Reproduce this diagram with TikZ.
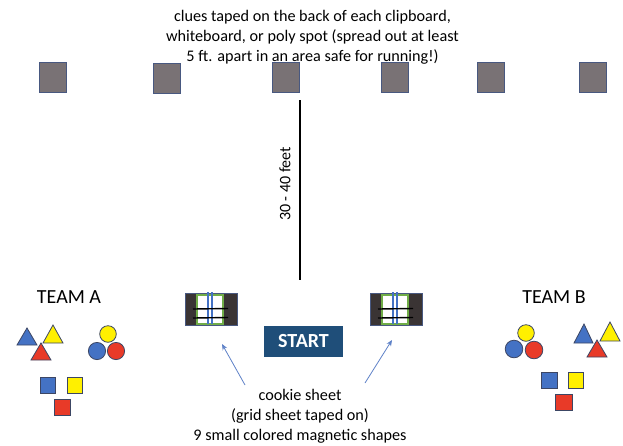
\documentclass[tikz,border=0pt]{standalone}
\usepackage{fontspec}
\setmainfont{Carlito}
\usetikzlibrary{arrows.meta}
\definecolor{clueg}{RGB}{121,114,117}
\definecolor{clueb}{RGB}{72,88,128}
\definecolor{shblue}{RGB}{68,114,196}
\definecolor{shyel}{RGB}{255,240,0}
\definecolor{shred}{RGB}{232,58,40}
\definecolor{shline}{RGB}{60,70,100}
\definecolor{startbg}{RGB}{31,78,121}
\definecolor{sheetdark}{RGB}{58,52,52}
\definecolor{sheetgreen}{RGB}{112,173,71}
\definecolor{arrowblue}{RGB}{95,130,200}
\tikzset{
  clue/.style={draw=clueb, line width=0.9pt, fill=clueg, minimum width=27pt, minimum height=30pt, inner sep=0pt},
  shp/.style={draw=shline, line width=0.8pt},
  lbl/.style={font=\fontsize{16.2}{19.8}\selectfont, align=center, inner sep=0pt},
  team/.style={font=\fontsize{20}{24}\selectfont, inner sep=0pt},
  pointer/.style={draw=arrowblue, line width=0.8pt, -{Stealth[length=6pt,width=5pt]}},
}
\newcommand{\cookiesheet}[2]{%
  \begin{scope}[shift={(#1,#2)}]
    \fill[sheetdark] (0,0) rectangle (52,32);
    \draw[clueb, line width=0.8pt] (0,0) rectangle (52,32);
    \fill[white] (12,2) rectangle (38,31);
    \draw[sheetgreen, line width=1.2pt] (12,2) rectangle (38,31);
    \draw[shblue, line width=1.2pt] (23,-1) -- (23,31) (27,-1) -- (27,31);
    \draw[black, line width=1.4pt] (8,16) -- (43,15.5) (8,25) -- (43,24.5);
  \end{scope}}
\begin{document}
\begin{tikzpicture}[x=1pt,y=-1pt]
\useasboundingbox[fill=white] (0,0) rectangle (623,445);
% title
\node[lbl] (title) at (312.5,37) {clues taped on the back of each clipboard,\\whiteboard, or poly spot (spread out at least\\5 ft. apart in an area safe for running!)};
% clue squares
\node[clue] (c1) at (53,77) {};
\node[clue] (c2) at (167,78) {};
\node[clue] (c3) at (286,77) {};
\node[clue] (c4) at (395,77) {};
\node[clue] (c5) at (491,77) {};
\node[clue] (c6) at (593,77) {};
% distance line
\coordinate (ltop) at (300,100);
\coordinate (lbot) at (300,280);
\draw[black, line width=1.6pt] (ltop) -- (lbot);
\node[font=\fontsize{16}{19}\selectfont, rotate=90, inner sep=0pt] (dist) at (285,184) {30 - 40 feet};
% teams
\node[team] (teamA) at (69,297) {TEAM A};
\node[team] (teamB) at (554,297) {TEAM B};
% team A shapes
\draw[shp, fill=shblue] (27,328) -- (37,345) -- (17,345) -- cycle;
\draw[shp, fill=shyel] (53,325) -- (63,343) -- (43,343) -- cycle;
\draw[shp, fill=shred] (41,343) -- (51,360) -- (31,360) -- cycle;
\draw[shp, fill=shyel] (108,334) circle (8.3);
\draw[shp, fill=shblue] (97,351) circle (8.6);
\draw[shp, fill=shred] (116,351) circle (8.6);
\draw[shp, fill=shblue] (40,377) rectangle (55,393);
\draw[shp, fill=shyel] (67,377) rectangle (82,393);
\draw[shp, fill=shred] (54,399) rectangle (70,415);
% team B shapes
\draw[shp, fill=shyel] (526,333) circle (8.3);
\draw[shp, fill=shblue] (514,349) circle (8.8);
\draw[shp, fill=shred] (534,350) circle (8.8);
\draw[shp, fill=shblue] (584,324) -- (593,343) -- (574,343) -- cycle;
\draw[shp, fill=shyel] (610,322) -- (620,341) -- (600,341) -- cycle;
\draw[shp, fill=shred] (597,340) -- (607,357) -- (587,357) -- cycle;
\draw[shp, fill=shblue] (541,372) rectangle (557,388);
\draw[shp, fill=shyel] (568,372) rectangle (583,388);
\draw[shp, fill=shred] (555,394) rectangle (572,410);
% cookie sheets
\cookiesheet{185}{293}
\cookiesheet{370}{293}
\coordinate (sheetL) at (222,344);
\coordinate (sheetR) at (392,340);
% start
\node[fill=startbg, text=white, font=\fontsize{20}{24}\selectfont\bfseries, minimum width=79pt, minimum height=31pt, inner sep=0pt] (start) at (303.5,341.5) {START};
% bottom label
\node[lbl] (cookie) at (300,416) {cookie sheet\\(grid sheet taped on)\\9 small colored magnetic shapes};
\draw[pointer] (245,385) -- (sheetL);
\draw[pointer] (365,383) -- (sheetR);
\end{tikzpicture}
\end{document}
